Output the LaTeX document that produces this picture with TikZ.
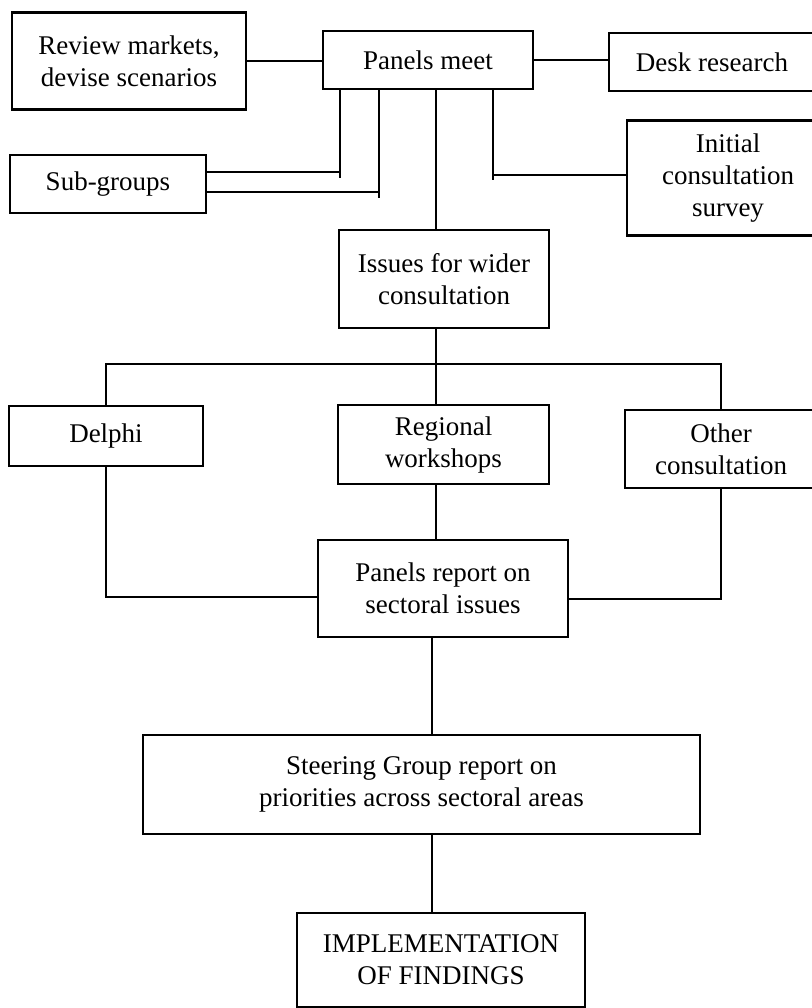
\documentclass[tikz,border=0pt]{standalone}
\usepackage{fontspec}
\setmainfont{Liberation Serif}
\begin{document}
\begin{tikzpicture}[x=0.5pt,y=-0.5pt,
  box/.style={draw, line width=1.1pt, align=center, inner sep=0pt,
    font=\fontsize{13.5}{16}\selectfont},
  link/.style={line width=1.1pt}]
\useasboundingbox (0,0) rectangle (811,1008);
% boxes
\node[box, minimum width=117pt, minimum height=48.5pt] (review) at (129,61) {Review markets,\\devise scenarios};
\node[box, minimum width=105pt, minimum height=29pt] (panels) at (428,60) {Panels meet};
\node[box, minimum width=103pt, minimum height=29pt] (desk) at (712,62) {Desk research};
\node[box, minimum width=98pt, minimum height=29pt] (subgroups) at (108,184) {Sub-groups};
\node[box, minimum width=101pt, minimum height=57.5pt] (initial) at (728,178) {Initial\\consultation\\survey};
\node[box, minimum width=105pt, minimum height=49pt] (issues) at (444,279) {Issues for wider\\consultation};
\node[box, minimum width=97pt, minimum height=30pt] (delphi) at (106,436) {Delphi};
\node[box, minimum width=105.5pt, minimum height=39.5pt] (regional) at (443.5,444.5) {Regional\\workshops};
\node[box, minimum width=96pt, minimum height=39pt] (other) at (721,449) {Other\\consultation};
\node[box, minimum width=125pt, minimum height=48.5pt] (report) at (443,588.5) {Panels report on\\sectoral issues};
\node[box, minimum width=278.5pt, minimum height=49.5pt] (steering) at (421.5,784.5) {Steering Group report on\\priorities across sectoral areas};
\node[box, minimum width=144pt, minimum height=47pt] (impl) at (441,960) {IMPLEMENTATION\\OF FINDINGS};
% junction coordinates
\coordinate (sg1) at (340,178); \coordinate (sg1h) at (340,172);
\coordinate (sg2) at (379,198); \coordinate (sg2h) at (379,192);
\coordinate (ic) at (493,180); \coordinate (ich) at (493,175);
\coordinate (sp) at (436,364);
\coordinate (dl) at (106,597); \coordinate (ol) at (722,599);
\coordinate (lo) at (432,700);
% connectors
\draw[link] (review.east) -- (review.east -| panels.west);
\draw[link] (panels.east) -- (panels.east -| desk.west);
\draw[link] (panels.south -| sg1) -- (sg1);
\draw[link] (subgroups.east |- sg1h) -- (sg1h);
\draw[link] (panels.south -| sg2) -- (sg2);
\draw[link] (subgroups.east |- sg2h) -- (sg2h);
\draw[link] (panels.south -| ic) -- (ic);
\draw[link] (ich) -- (initial.west |- ich);
\draw[link] (panels.south -| sp) -- (issues.north -| sp);
\draw[link] (issues.south -| sp) -- (regional.north -| sp);
\draw[link] (delphi.north) |- (sp) -| (other.north);
\draw[link] (regional.south -| sp) -- (report.north -| sp);
\draw[link] (delphi.south) |- (report.west |- dl);
\draw[link] (other.south) |- (report.east |- ol);
\draw[link] (report.south -| lo) -- (steering.north -| lo);
\draw[link] (steering.south -| lo) -- (impl.north -| lo);
\end{tikzpicture}
\end{document}
